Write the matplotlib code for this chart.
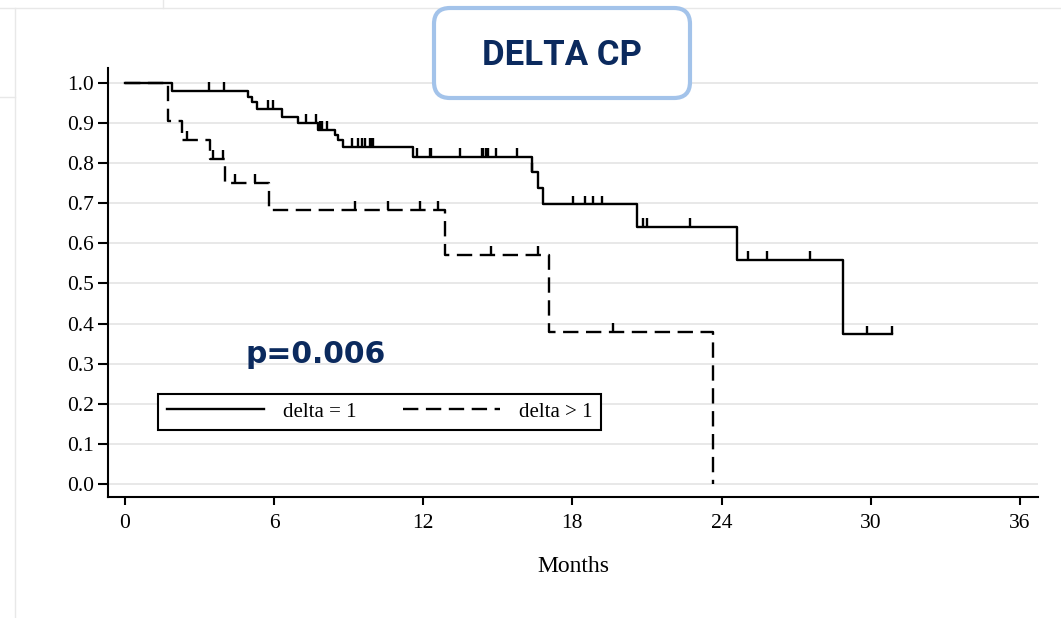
import numpy as np
import matplotlib.pyplot as plt
from matplotlib.patches import FancyBboxPatch
from matplotlib.lines import Line2D

# Kaplan-Meier steps (months, survival)
t_d1 = [0, 1.9, 4.95, 5.1, 5.3, 6.3, 6.96, 7.77, 8.45, 8.58, 8.78, 11.57,
        16.36, 16.63, 16.80, 20.61, 24.63, 28.9, 30.84]
s_d1 = [1.0, 0.98, 0.965, 0.951, 0.934, 0.916, 0.90, 0.883, 0.870, 0.858, 0.840, 0.816,
        0.779, 0.737, 0.697, 0.640, 0.559, 0.373, 0.373]
cens_d1 = [3.4, 4.0, 5.75, 5.95, 7.3, 7.7, 7.84, 7.91, 8.11,
           9.12, 9.39, 9.52, 9.65, 9.86, 9.92, 9.99,
           11.73, 12.27, 12.33, 13.47, 14.35, 14.41, 14.52, 14.62, 14.92, 15.78, 16.36,
           18.03, 18.5, 18.84, 19.18, 20.85, 21.01, 22.73,
           25.07, 25.81, 27.55, 29.86, 30.84]

t_d2 = [0, 1.72, 2.28, 3.42, 4.02, 5.8, 12.87, 17.06, 23.66]
s_d2 = [1.0, 0.906, 0.858, 0.810, 0.751, 0.683, 0.571, 0.380, 0.0]
cens_d2 = [2.5, 3.55, 3.95, 4.42, 5.23, 9.25, 10.59, 11.87, 12.6, 14.71, 16.62, 19.64]

labels = ["delta = 1", "delta > 1"]
xticks = [0, 6, 12, 18, 24, 30, 36]
yticks = np.round(np.arange(0, 1.01, 0.1), 1)

serif = ["Liberation Serif", "DejaVu Serif"]
navy = "#0b2a5e"
lw = 1.7


def surv_at(t, times, surv):
    # survival value of a step curve at time t
    idx = np.searchsorted(times, t, side="right") - 1
    return surv[idx]


fig = plt.figure(figsize=(10.61, 6.18), dpi=100)
ax = fig.add_axes([0.1018, 0.1958, 0.8765, 0.6942])

for yv in yticks:
    ax.axhline(yv, color="#e4e4e4", lw=1.2, zorder=0)

ax.step(t_d1, s_d1, where="post", color="black", lw=lw, zorder=3)
ax.step(t_d2, s_d2, where="post", color="black", lw=lw, dashes=(6.5, 3.2), zorder=3)

tick_h = 0.022
for c in cens_d1:
    s = surv_at(c, t_d1, s_d1)
    ax.vlines(c, s, s + tick_h, color="black", lw=lw, zorder=3)
for c in cens_d2:
    s = surv_at(c, t_d2, s_d2)
    ax.vlines(c, s, s + tick_h, color="black", lw=lw, zorder=3)

ax.set_xlim(-0.68, 36.73)
ax.set_ylim(-0.032, 1.037)
ax.set_xticks(xticks)
ax.set_yticks(yticks)
ax.set_yticklabels([f"{v:.1f}" for v in yticks])
for sp in ["top", "right"]:
    ax.spines[sp].set_visible(False)
for sp in ["left", "bottom"]:
    ax.spines[sp].set_linewidth(1.5)
ax.tick_params(axis="y", direction="out", length=7, width=1.5, pad=3, labelsize=15.5)
ax.tick_params(axis="x", direction="out", length=6, width=1.5, pad=6, labelsize=15.5)
for lab in ax.get_xticklabels() + ax.get_yticklabels():
    lab.set_family(serif)
ax.set_xlabel("Months", family=serif, fontsize=17, labelpad=17)

handles = [Line2D([], [], color="black", lw=lw),
           Line2D([], [], color="black", lw=lw, dashes=(6.5, 3.2))]
leg = ax.legend(handles, labels, ncol=2, loc="lower left",
                bbox_to_anchor=(0.054, 0.156), borderaxespad=0,
                prop={"family": serif, "size": 15}, fancybox=False,
                edgecolor="black", framealpha=1, handlelength=4.7,
                handletextpad=0.9, columnspacing=2.2, borderpad=0.4)
leg.get_frame().set_linewidth(1.5)

# title box
box = FancyBboxPatch((4.34, 5.20), 2.56, 0.90,
                     boxstyle="round,pad=0,rounding_size=0.16",
                     transform=fig.dpi_scale_trans, facecolor="white",
                     edgecolor="#a3c3ea", lw=3, zorder=5)
fig.patches.append(box)
fig.text(0.5297, 0.911, "DELTA CP", ha="center", va="center", fontsize=25,
         fontweight="bold", color=navy, family=["Roboto", "DejaVu Sans"], zorder=6)

fig.text(0.2974, 0.4256, "p=0.006", ha="center", va="center", fontsize=21.5,
         fontweight="bold", color=navy, family="DejaVu Sans")

# faint frame lines of the original slide
frame_c = "#e8e8e8"
fig.add_artist(Line2D([0, 1], [1 - 8 / 618] * 2, color=frame_c, lw=1))
fig.add_artist(Line2D([163 / 1061] * 2, [1 - 8 / 618, 1], color=frame_c, lw=1))
fig.add_artist(Line2D([15 / 1061] * 2, [0, 1 - 8 / 618], color=frame_c, lw=1))
fig.add_artist(Line2D([0, 15 / 1061], [1 - 97 / 618] * 2, color=frame_c, lw=1))

fig.savefig("out.png", dpi=100)
